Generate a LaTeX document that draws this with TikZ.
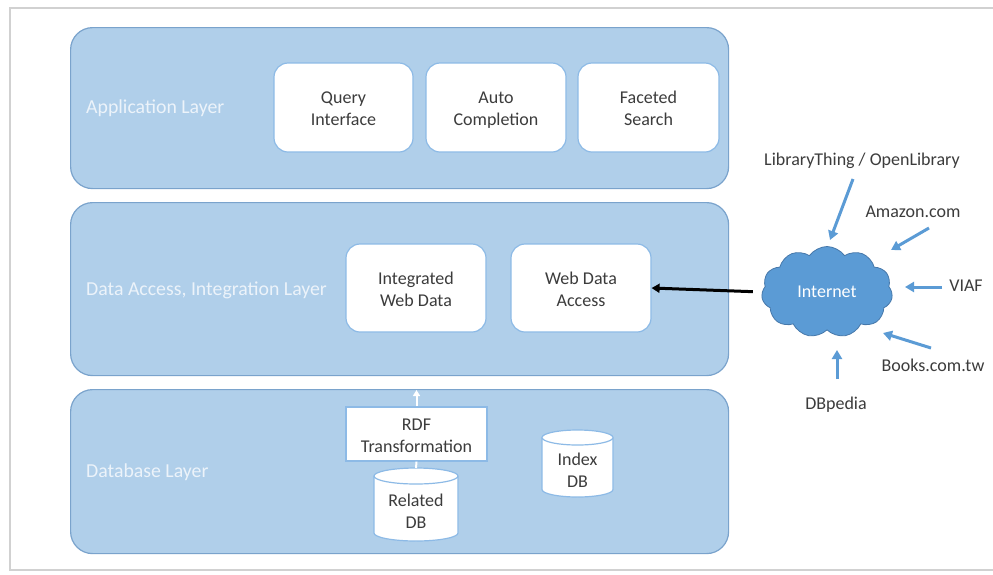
\documentclass[tikz,border=0pt]{standalone}
\usepackage{fontspec}
\setmainfont{Carlito}
\usetikzlibrary{shapes.geometric,shapes.symbols,arrows.meta}
\definecolor{layerfill}{RGB}{176,207,234}
\definecolor{layerdraw}{RGB}{122,163,204}
\definecolor{boxdraw}{RGB}{141,186,230}
\definecolor{txt}{RGB}{60,60,60}
\definecolor{laytxt}{RGB}{236,243,250}
\definecolor{cloudfill}{RGB}{91,155,213}
\definecolor{clouddraw}{RGB}{70,120,170}
\definecolor{arrowblue}{RGB}{91,155,213}
\newcommand\mystrut{\vrule width 0pt height 17pt depth 2.2pt\relax}
\begin{document}
\begin{tikzpicture}[x=1pt,y=-1pt,
  layer/.style={draw=layerdraw, fill=layerfill, line width=1.2pt, rounded corners=22pt,
    minimum width=658pt, anchor=north west, inner sep=0pt},
  laylabel/.style={anchor=west, text=laytxt, font=\fontsize{19.8}{23}\selectfont, inner sep=0pt},
  ibox/.style={draw=boxdraw, fill=white, line width=1.2pt, rounded corners=14pt,
    align=center, text=txt, font=\fontsize{18}{22}\selectfont, inner sep=0pt},
  dbcyl/.style={draw=boxdraw, fill=white, line width=1.2pt},
  cyltext/.style={align=center, text=txt, font=\fontsize{18}{22}\selectfont, inner sep=0pt},
  ext/.style={text=txt, font=\fontsize{18}{22}\selectfont, inner sep=0pt},
  bluearrow/.style={draw=arrowblue, line width=3pt, -{Triangle[length=9pt,width=10pt]}},
]
\useasboundingbox (0,0) rectangle (993,574);
\fill[white] (0,0) rectangle (993,574);
\draw[black!18, line width=2pt] (995,8) -- (10,8) -- (10,570) -- (995,570);

% layers
\node[layer, minimum height=161pt] (app) at (70,27) {};
\node[layer, minimum height=173pt] (dal) at (70,202) {};
\node[layer, minimum height=164pt] (dbl) at (70,389) {};
\node[laylabel] (applbl) at (86,108) {Application Layer};
\node[laylabel] (dallbl) at (86,290) {Data Access, Integration Layer};
\node[laylabel] (dbllbl) at (86,472) {Database Layer};

% application boxes
\node[ibox, minimum width=139pt, minimum height=89pt] (qi) at (343.5,107.5) {\mystrut Query\\\mystrut Interface};
\node[ibox, minimum width=140pt, minimum height=89pt] (ac) at (496,107.5) {\mystrut Auto\\\mystrut Completion};
\node[ibox, minimum width=141pt, minimum height=89pt] (fs) at (648.5,107.5) {\mystrut Faceted\\\mystrut Search};

% data access boxes
\node[ibox, minimum width=140pt, minimum height=88pt] (iwd) at (416,288) {\mystrut Integrated\\\mystrut Web Data};
\node[ibox, minimum width=140pt, minimum height=88pt] (wda) at (581,288) {\mystrut Web Data\\\mystrut Access};

% database layer
\node[ibox, rounded corners=0pt, minimum width=141pt, minimum height=54pt] (rdf) at (416.5,434) {\mystrut RDF\\\mystrut Transformation};

% Related DB cylinder
\path[dbcyl] (374,476) -- (374,533) arc(180:0:42 and 8) -- (458,476) arc(360:180:42 and 8) -- cycle;
\draw[dbcyl] (374,476) arc(180:0:42 and 8);
\node[cyltext] (rdb) at (416,510.5) {\mystrut Related\\\mystrut DB};
\coordinate (rdbtop) at (416,468);
% Index DB cylinder
\path[dbcyl] (542,437.5) -- (542,489.5) arc(180:0:35.5 and 7.5) -- (613,437.5) arc(360:180:35.5 and 7.5) -- cycle;
\draw[dbcyl] (542,437.5) arc(180:0:35.5 and 7.5);
\node[cyltext] (idb) at (577.5,469) {\mystrut Index\\\mystrut DB};

\coordinate (rdftop) at (416.5,390);
\draw[white, line width=2pt] (rdbtop) -- (rdf.south);
\draw[white, line width=2pt, -{Triangle[length=6pt,width=7pt]}] (rdf.north) -- (rdftop);

% cloud
\node[cloud, cloud puffs=11, cloud puff arc=110, aspect=1.45, draw=clouddraw, fill=cloudfill,
  line width=0.8pt, minimum width=131pt, minimum height=91pt, inner sep=0pt,
  text=white, font=\fontsize{18}{22}\selectfont] (cloud) at (827,292) {Internet};
\draw[black, line width=3pt, -{Triangle[length=8pt,width=9pt]}, shorten <=9pt] (cloud.west) -- (wda.east);

% external sources
\node[ext] (lt) at (862,161) {LibraryThing / OpenLibrary};
\node[ext] (am) at (913,212) {Amazon.com};
\node[ext] (vi) at (966,286) {VIAF};
\node[ext] (bk) at (933,365) {Books.com.tw};
\node[ext] (dbp) at (836,405) {DBpedia};

\coordinate (ltA) at (853,179); \coordinate (ltB) at (830,240);
\coordinate (amA) at (929,228); \coordinate (amB) at (891,250);
\coordinate (viA) at (942,287); \coordinate (viB) at (905,287);
\coordinate (bkA) at (931,348); \coordinate (bkB) at (883,333);
\coordinate (dbA) at (837,379); \coordinate (dbB) at (837,350);
\draw[bluearrow] (ltA) -- (ltB);
\draw[bluearrow] (amA) -- (amB);
\draw[bluearrow] (viA) -- (viB);
\draw[bluearrow] (bkA) -- (bkB);
\draw[bluearrow] (dbA) -- (dbB);
\end{tikzpicture}
\end{document}
